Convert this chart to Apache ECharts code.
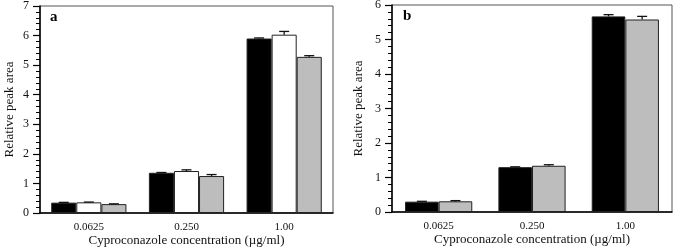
<!DOCTYPE html>
<html>
<head>
<meta charset="utf-8">
<script src="https://cdn.jsdelivr.net/npm/echarts@6/dist/echarts.min.js"></script>
<style>
  html, body { margin: 0; padding: 0; background: #fff; }
  #main { width: 685px; height: 249px; }
</style>
</head>
<body>
<div id="main"></div>
<script>
// concentrations (µg/ml)
const categories = ['0.0625', '0.250', '1.00'];

// panel a: three series
const aBlack = [0.35, 1.36, 5.90];
const aWhite = [0.36, 1.42, 6.03];
const aGray = [0.30, 1.25, 5.28];
const aBlackErr = [0.01, 0.01, 0.02];
const aWhiteErr = [0.01, 0.04, 0.11];
const aGrayErr = [0.01, 0.05, 0.04];

// panel b: two series
const bBlack = [0.30, 1.30, 5.67];
const bGray = [0.31, 1.34, 5.58];
const bBlackErr = [0.01, 0.01, 0.05];
const bGrayErr = [0.02, 0.03, 0.09];

const serif = '"Liberation Serif", "DejaVu Serif", serif';
const GAP_A = 0.23, GAP_B = 0.28;

var myChart = echarts.init(document.getElementById('main'));

function barSeries(gridIdx, values, color) {
  return {
    type: 'bar',
    xAxisIndex: gridIdx, yAxisIndex: gridIdx,
    data: values,
    barGap: '0%',
    barCategoryGap: (gridIdx === 0 ? GAP_A : GAP_B) * 100 + '%',
    itemStyle: {color: color, borderColor: '#222', borderWidth: 1},
    z: 2
  };
}

// error bar caps drawn through the axis scales
function errSeries(gridIdx, values, errs, idx, n) {
  const gap = gridIdx === 0 ? GAP_A : GAP_B;
  return {
    type: 'custom',
    xAxisIndex: gridIdx, yAxisIndex: gridIdx,
    data: values.map((v, i) => [i, v, v + errs[i]]),
    z: 3,
    renderItem: function (params, api) {
      const band = api.size([1, 0])[0];
      const groupW = band * (1 - gap);
      const bw = groupW / n;
      const off = -groupW / 2 + bw * (idx + 0.5);
      const p0 = api.coord([api.value(0), api.value(1)]);
      const p1 = api.coord([api.value(0), api.value(2)]);
      const x = p0[0] + off;
      const cap = 5;
      const style = {stroke: '#111', lineWidth: 1.3};
      return {
        type: 'group',
        children: [
          {type: 'line', shape: {x1: x, y1: p0[1], x2: x, y2: p1[1]}, style: style},
          {type: 'line', shape: {x1: x - cap, y1: p1[1], x2: x + cap, y2: p1[1]}, style: style}
        ]
      };
    }
  };
}

function xAxis(gridIdx) {
  return {
    type: 'category', gridIndex: gridIdx, data: categories,
    name: 'Cyproconazole concentration (µg/ml)',
    nameLocation: 'middle', nameGap: 21, nameMoveOverlap: false,
    nameTextStyle: {fontFamily: serif, fontSize: 13, color: '#111'},
    axisLine: {lineStyle: {color: '#000', width: 1.5}},
    axisTick: {show: false},
    axisLabel: {fontFamily: serif, fontSize: 11, color: '#111', margin: 9}
  };
}

function yAxis(gridIdx, max, gap) {
  return {
    type: 'value', gridIndex: gridIdx, min: 0, max: max, interval: 1,
    name: 'Relative peak area',
    nameLocation: 'middle', nameGap: gap, nameRotate: 90, nameMoveOverlap: false,
    nameTextStyle: {fontFamily: serif, fontSize: 13, color: '#111'},
    axisLine: {show: true, lineStyle: {color: '#000', width: 1.5}},
    axisTick: {show: true, length: 7, lineStyle: {color: '#000', width: 1.2}},
    minorTick: {show: true, splitNumber: 5, length: 4, lineStyle: {color: '#000', width: 1}},
    splitLine: {show: false},
    axisLabel: {fontFamily: serif, fontSize: 12, color: '#111', margin: 11}
  };
}

const option = {
  animation: false,
  backgroundColor: '#fff',
  title: [
    {text: 'a', left: 45, top: 5, textStyle: {fontFamily: serif, fontSize: 15, fontWeight: 'bold', color: '#000'}},
    {text: 'b', left: 398, top: 4, textStyle: {fontFamily: serif, fontSize: 15, fontWeight: 'bold', color: '#000'}}
  ],
  grid: [
    {left: 40, right: 352, top: 6, bottom: 36, outerBoundsMode: 'none', show: true, borderColor: '#555', borderWidth: 1},
    {left: 392, right: 13, top: 5, bottom: 37, outerBoundsMode: 'none', show: true, borderColor: '#555', borderWidth: 1}
  ],
  xAxis: [xAxis(0), xAxis(1)],
  yAxis: [yAxis(0, 7, 24), yAxis(1, 6, 27)],
  series: [
    barSeries(0, aBlack, '#000'),
    barSeries(0, aWhite, '#fff'),
    barSeries(0, aGray, '#bdbdbd'),
    errSeries(0, aBlack, aBlackErr, 0, 3),
    errSeries(0, aWhite, aWhiteErr, 1, 3),
    errSeries(0, aGray, aGrayErr, 2, 3),
    barSeries(1, bBlack, '#000'),
    barSeries(1, bGray, '#bdbdbd'),
    errSeries(1, bBlack, bBlackErr, 0, 2),
    errSeries(1, bGray, bGrayErr, 1, 2)
  ]
};

myChart.setOption(option);
</script>
</body>
</html>
